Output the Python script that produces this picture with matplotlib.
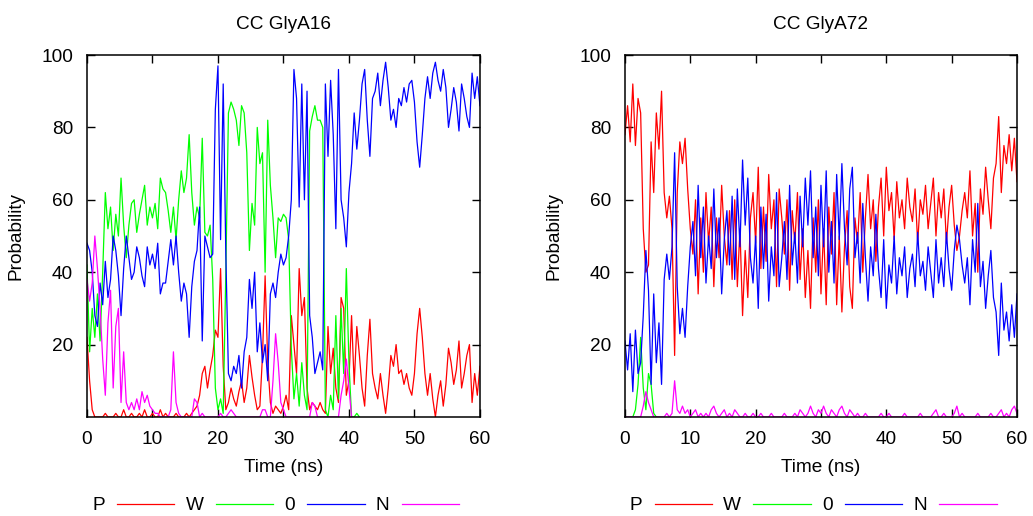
import numpy as np
import matplotlib
matplotlib.use("Agg")
import matplotlib.pyplot as plt

plt.rcParams["font.family"] = ["Liberation Sans", "DejaVu Sans"]

DT = 0.4  # ns between samples
LABELS = ["P", "W", "0", "N"]
COLORS = ["#ff0000", "#00ff00", "#0000ff", "#ff00ff"]

# CC GlyA16 (series that fall to zero for good stop at that point)
a16_P = [22, 10, 2, 0, 0, 0, 0, 1, 0, 0,
         0, 1, 0, 0, 2, 0, 0, 1, 0, 0,
         1, 0, 2, 0, 0, 1, 0, 0, 2, 0,
         1, 0, 0, 0, 1, 0, 0, 0, 1, 0,
         1, 2, 3, 6, 12, 14, 8, 13, 17, 24,
         22, 41, 14, 2, 4, 8, 5, 3, 7, 10,
         4, 8, 17, 11, 6, 2, 3, 17, 39, 15,
         4, 1, 3, 2, 1, 3, 6, 2, 28, 20,
         12, 41, 28, 33, 8, 2, 4, 3, 2, 4,
         2, 1, 25, 12, 19, 8, 4, 33, 30, 6,
         10, 28, 9, 25, 17, 8, 3, 17, 27, 12,
         8, 5, 12, 6, 1, 8, 17, 14, 20, 12,
         13, 9, 12, 8, 6, 12, 23, 30, 22, 12,
         6, 12, 5, 0, 6, 10, 3, 9, 19, 15,
         9, 13, 21, 8, 12, 17, 20, 4, 12, 6, 14]
a16_W = [42, 18, 30, 22, 34, 21, 40, 62, 52, 58,
         46, 56, 50, 66, 53, 44, 53, 59, 60, 51,
         56, 60, 64, 53, 58, 55, 59, 52, 66, 63,
         62, 57, 51, 58, 49, 60, 68, 62, 66, 78,
         62, 53, 58, 55, 77, 51, 50, 53, 38, 8,
         2, 5, 1, 40, 84, 87, 85, 82, 75, 86,
         84, 73, 46, 59, 53, 80, 70, 73, 40, 82,
         64, 55, 44, 55, 54, 56, 55, 49, 19, 5,
         12, 3, 15, 6, 2, 79, 83, 86, 82, 82,
         80, 2, 0, 6, 2, 28, 5, 30, 12, 41,
         15, 0, 0, 1, 0]
a16_0 = [48, 46, 40, 28, 25, 37, 31, 43, 33, 38,
         50, 46, 39, 28, 41, 50, 44, 38, 40, 47,
         44, 39, 36, 47, 42, 45, 41, 48, 34, 37,
         37, 43, 49, 42, 50, 40, 32, 37, 34, 22,
         36, 43, 46, 58, 21, 50, 47, 44, 45, 85,
         97, 49, 92, 45, 12, 10, 14, 12, 17, 8,
         18, 22, 38, 30, 40, 18, 26, 15, 20, 10,
         34, 37, 33, 40, 45, 42, 44, 50, 60, 96,
         88, 58, 92, 60, 90, 28, 22, 12, 15, 18,
         13, 92, 72, 93, 78, 52, 96, 60, 55, 47,
         62, 70, 84, 74, 82, 92, 96, 82, 72, 88,
         90, 95, 86, 93, 98, 91, 82, 85, 80, 88,
         86, 91, 87, 92, 93, 87, 76, 69, 78, 88,
         94, 88, 95, 98, 93, 90, 96, 91, 80, 85,
         91, 87, 79, 92, 88, 83, 80, 95, 88, 94, 86]
a16_N = [38, 32, 37, 50, 41, 30, 16, 6, 26, 35,
         8, 25, 30, 4, 18, 4, 2, 4, 2, 5,
         2, 7, 4, 6, 3, 2, 1, 1, 0, 0,
         0, 0, 2, 18, 4, 1, 0, 0, 0, 0,
         0, 5, 4, 0, 1, 0, 0, 0, 0, 0,
         0, 1, 0, 0, 1, 2, 1, 0, 0, 0,
         0, 0, 0, 0, 0, 0, 0, 2, 2, 0,
         0, 10, 23, 15, 4, 2, 0, 0, 0, 0,
         0, 0, 0, 0, 0, 0, 4, 3, 0, 0,
         0, 0, 0, 0, 0, 0, 0, 6, 10, 16,
         8, 0]

# CC GlyA72
a72_P = [78, 86, 76, 92, 75, 88, 84, 52, 40, 42,
         76, 62, 84, 74, 90, 62, 55, 61, 52, 17,
         62, 76, 70, 77, 63, 52, 45, 60, 34, 55,
         40, 62, 48, 58, 36, 55, 44, 64, 50, 42,
         57, 38, 60, 36, 52, 28, 46, 33, 55, 62,
         48, 69, 41, 58, 43, 67, 52, 60, 36, 63,
         55, 45, 60, 35, 57, 48, 62, 38, 52, 33,
         46, 30, 55, 40, 60, 34, 52, 31, 58, 45,
         62, 31, 50, 29, 47, 57, 36, 30, 55, 48,
         62, 40, 55, 67, 52, 60, 43, 58, 66, 50,
         69, 57, 62, 49, 65, 55, 60, 52, 66, 58,
         54, 63, 48, 60, 56, 64, 52, 59, 66, 50,
         62, 55, 63, 48, 58, 64, 53, 46, 50, 57,
         62, 55, 68, 50, 59, 40, 63, 56, 69, 60,
         52, 66, 70, 83, 62, 75, 70, 78, 68, 77, 65]
a72_W = [0, 0, 0, 0, 2, 9, 22, 8, 2, 12, 9, 1, 0]
a72_0 = [21, 13, 23, 7, 24, 12, 15, 28, 46, 35,
         9, 34, 15, 26, 9, 38, 45, 38, 47, 73,
         36, 23, 30, 22, 36, 47, 54, 39, 64, 44,
         58, 37, 50, 41, 63, 44, 55, 34, 49, 57,
         42, 61, 38, 63, 47, 71, 53, 66, 44, 37,
         50, 30, 58, 41, 56, 32, 47, 39, 62, 36,
         44, 54, 38, 64, 42, 51, 37, 61, 47, 66,
         53, 68, 44, 58, 39, 64, 47, 68, 40, 54,
         37, 67, 49, 70, 52, 42, 63, 69, 44, 51,
         37, 59, 44, 32, 47, 39, 56, 41, 33, 49,
         30, 42, 37, 50, 34, 44, 39, 47, 33, 41,
         45, 36, 51, 39, 43, 35, 47, 40, 33, 49,
         37, 44, 36, 51, 41, 35, 46, 53, 49, 42,
         37, 44, 31, 49, 40, 59, 36, 43, 30, 39,
         46, 33, 29, 17, 37, 24, 29, 21, 31, 22, 34]
a72_N = [0, 0, 0, 0, 0, 0, 0, 3, 7, 4,
         2, 0, 0, 0, 0, 0, 1, 0, 1, 10,
         2, 1, 3, 1, 2, 0, 1, 2, 0, 1,
         0, 1, 0, 2, 3, 1, 0, 1, 2, 0,
         1, 0, 2, 1, 0, 0, 1, 0, 0, 1,
         0, 0, 1, 0, 0, 0, 1, 0, 0, 0,
         0, 1, 0, 0, 0, 1, 0, 2, 1, 0,
         1, 3, 1, 0, 2, 1, 3, 1, 0, 2,
         1, 0, 2, 3, 1, 0, 2, 1, 0, 1,
         0, 0, 1, 0, 0, 0, 0, 0, 1, 0,
         0, 1, 0, 0, 0, 0, 0, 1, 0, 0,
         0, 0, 0, 1, 0, 0, 0, 0, 1, 2,
         0, 0, 1, 0, 0, 0, 1, 3, 0, 1,
         0, 0, 0, 0, 0, 1, 0, 0, 0, 0,
         1, 0, 0, 1, 2, 0, 1, 0, 2, 3, 1]

x_ticks = [0, 10, 20, 30, 40, 50, 60]
y_ticks = [20, 40, 60, 80, 100]
FS = 13.7


def draw_panel(ax, title, series):
    for values, label, color in zip(series, LABELS, COLORS):
        t = np.arange(len(values)) * DT
        ax.plot(t, values, color=color, lw=0.9, label=label)
    ax.set_xlim(0, 60)
    ax.set_ylim(0, 100)
    ax.set_xticks(x_ticks)
    ax.set_yticks(y_ticks)
    ax.tick_params(direction="in", length=6, width=1, top=True, right=True,
                   labelsize=FS, pad=10)
    for s in ax.spines.values():
        s.set_linewidth(1.1)
    ax.set_title(title, fontsize=FS, pad=19)
    ax.set_xlabel("Time (ns)", fontsize=FS, labelpad=8)
    ax.set_ylabel("Probability", fontsize=FS, labelpad=12)
    ax.legend(loc="center", bbox_to_anchor=(0.48, -0.245), ncol=4, frameon=False,
              markerfirst=False, fontsize=FS, handlelength=3.0,
              handletextpad=0.65, columnspacing=0.6)


fig = plt.figure(figsize=(10.33, 5.16), dpi=100)
ax1 = fig.add_axes([0.0842, 0.1919, 0.3804, 0.7015])
ax2 = fig.add_axes([0.605, 0.1919, 0.3795, 0.7015])
draw_panel(ax1, "CC GlyA16", [a16_P, a16_W, a16_0, a16_N])
draw_panel(ax2, "CC GlyA72", [a72_P, a72_W, a72_0, a72_N])
fig.savefig("out.png", dpi=100)
